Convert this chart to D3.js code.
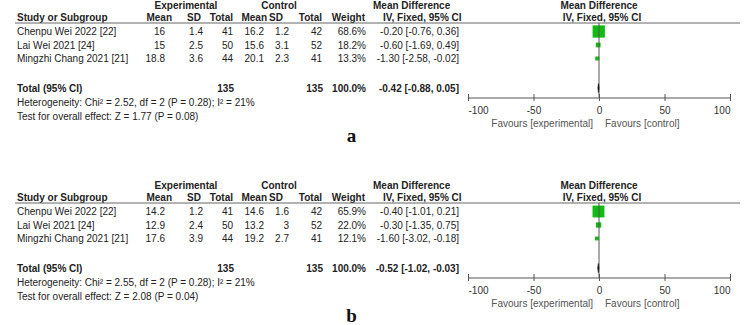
<!DOCTYPE html>
<html>
<head>
<meta charset="utf-8">
<script src="https://cdn.jsdelivr.net/npm/d3@7"></script>
<style>
  html, body { margin: 0; padding: 0; background: #fff; }
  svg { display: block; font-family: "Liberation Sans", Arial, sans-serif; font-size: 10px; }
  .txt { fill: #222; }
  .bold { font-weight: bold; }
  .grey { fill: #555; }
  .panel-label { font-family: "Liberation Serif", "Times New Roman", serif; font-weight: bold; font-size: 19px; fill: #111; }
</style>
</head>
<body>
<svg id="chart" width="753" height="325"></svg>
<script>
const studies = ['Chenpu Wei 2022 [22]', 'Lai Wei 2021 [24]', 'Mingzhi Chang 2021 [21]'];
const axisTicks = [-100, -50, 0, 50, 100];

// panel a
const expMeanA = [16, 15, 18.8];
const expSdA = [1.4, 2.5, 3.6];
const expTotalA = [41, 50, 44];
const ctlMeanA = [16.2, 15.6, 20.1];
const ctlSdA = [1.2, 3.1, 2.3];
const ctlTotalA = [42, 52, 41];
const weightA = [68.6, 18.2, 13.3];
const mdA = [-0.2, -0.6, -1.3];
const loA = [-0.76, -1.69, -2.58];
const hiA = [0.36, 0.49, -0.02];
const pooledA = [-0.42, -0.88, 0.05];
const hetA = 'Heterogeneity: Chi² = 2.52, df = 2 (P = 0.28); I² = 21%';
const testA = 'Test for overall effect: Z = 1.77 (P = 0.08)';

// panel b
const expMeanB = [14.2, 12.9, 17.6];
const expSdB = [1.2, 2.4, 3.9];
const expTotalB = [41, 50, 44];
const ctlMeanB = [14.6, 13.2, 19.2];
const ctlSdB = [1.6, 3, 2.7];
const ctlTotalB = [42, 52, 41];
const weightB = [65.9, 22.0, 12.1];
const mdB = [-0.4, -0.3, -1.6];
const loB = [-1.01, -1.35, -3.02];
const hiB = [0.21, 0.75, -0.18];
const pooledB = [-0.52, -1.02, -0.03];
const hetB = 'Heterogeneity: Chi² = 2.55, df = 2 (P = 0.28); I² = 21%';
const testB = 'Test for overall effect: Z = 2.08 (P = 0.04)';

const svg = d3.select('#chart');
// RevMan prints a plain hyphen, not the unicode minus
const locale = d3.formatLocale({ decimal: '.', thousands: ',', grouping: [3], currency: ['', ''], minus: '-' });
const f2 = locale.format('.2f');
const fw = (v) => locale.format('.1f')(v) + '%';
const ci = (m, l, h) => `${f2(m)} [${f2(l)}, ${f2(h)}]`;

// value column right edges (x) and header right edges (hx)
const cols = [
  { key: 'em', x: 165, hx: 172, head: 'Mean' },
  { key: 'es', x: 203, hx: 201, head: 'SD' },
  { key: 'et', x: 233, hx: 233, head: 'Total' },
  { key: 'cm', x: 264, hx: 267, head: 'Mean' },
  { key: 'cs', x: 289, hx: 283, head: 'SD' },
  { key: 'ct', x: 322, hx: 322, head: 'Total' },
  { key: 'w', x: 366, hx: 365, head: 'Weight' }
];

const x = d3.scaleLinear().domain([-100, 100]).range([468, 730]);
const boxSize = d3.scaleLinear().domain([0, 100]).range([2, 17]);

function drawPanel(top, p) {
  const g = svg.append('g').attr('transform', `translate(0,${top})`);
  const rows = studies.map((s, i) => ({
    name: s,
    em: p.em[i], es: p.es[i], et: p.et[i],
    cm: p.cm[i], cs: p.cs[i], ct: p.ct[i],
    w: p.w[i], md: p.md[i], lo: p.lo[i], hi: p.hi[i]
  }));
  const y = d3.scalePoint().domain(studies).range([31.5, 58.5]);
  const totalY = 88;
  const axisY = 97.5;

  // header row 1
  g.append('text').attr('class', 'txt bold').attr('x', 186).attr('y', 8.5).attr('text-anchor', 'middle').text('Experimental');
  g.append('text').attr('class', 'txt bold').attr('x', 279).attr('y', 8.5).attr('text-anchor', 'middle').text('Control');
  g.append('text').attr('class', 'txt bold').attr('x', 373).attr('y', 8.5).text('Mean Difference');
  g.append('text').attr('class', 'txt bold').attr('x', 599).attr('y', 8.5).attr('text-anchor', 'middle').text('Mean Difference');

  // header row 2
  g.append('text').attr('class', 'txt bold').attr('x', 17).attr('y', 21).text('Study or Subgroup');
  cols.forEach((c) => {
    g.append('text').attr('class', 'txt bold').attr('x', c.hx).attr('y', 21).attr('text-anchor', 'end').text(c.head);
  });
  g.append('text').attr('class', 'txt bold').attr('x', 383).attr('y', 21).text('IV, Fixed, 95% CI');
  g.append('text').attr('class', 'txt bold').attr('x', 602).attr('y', 21).attr('text-anchor', 'middle').text('IV, Fixed, 95% CI');

  g.append('line').attr('x1', 15).attr('x2', 740).attr('y1', 23).attr('y2', 23).attr('stroke', '#666').attr('stroke-width', 1);

  // study rows
  const row = g.selectAll('g.row').data(rows).join('g').attr('class', 'row')
    .attr('transform', (d) => `translate(0,${y(d.name)})`);
  row.append('text').attr('class', 'txt').attr('x', 17).attr('dy', '0.35em').text((d) => d.name);
  cols.forEach((c) => {
    row.append('text').attr('class', 'txt').attr('x', c.x).attr('dy', '0.35em').attr('text-anchor', 'end')
      .text((d) => (c.key === 'w' ? fw(d.w) : String(d[c.key])));
  });
  row.append('text').attr('class', 'txt').attr('x', 459).attr('dy', '0.35em').attr('text-anchor', 'end')
    .text((d) => ci(d.md, d.lo, d.hi));

  // total row
  g.append('text').attr('class', 'txt bold').attr('x', 17).attr('y', totalY).attr('dy', '0.35em').text('Total (95% CI)');
  g.append('text').attr('class', 'txt bold').attr('x', 234).attr('y', totalY).attr('dy', '0.35em').attr('text-anchor', 'end').text(d3.sum(p.et));
  g.append('text').attr('class', 'txt bold').attr('x', 323).attr('y', totalY).attr('dy', '0.35em').attr('text-anchor', 'end').text(d3.sum(p.ct));
  g.append('text').attr('class', 'txt bold').attr('x', 366).attr('y', totalY).attr('dy', '0.35em').attr('text-anchor', 'end').text(fw(100));
  g.append('text').attr('class', 'txt bold').attr('x', 459).attr('y', totalY).attr('dy', '0.35em').attr('text-anchor', 'end').text(ci(p.pooled[0], p.pooled[1], p.pooled[2]));
  g.append('text').attr('class', 'txt').attr('x', 17).attr('y', 102).attr('dy', '0.35em').text(p.het);
  g.append('text').attr('class', 'txt').attr('x', 17).attr('y', 116).attr('dy', '0.35em').text(p.test);

  // zero line
  g.append('line').attr('x1', x(0)).attr('x2', x(0)).attr('y1', 23).attr('y2', axisY).attr('stroke', '#555').attr('stroke-width', 1);

  // confidence intervals and boxes
  row.append('line').attr('x1', (d) => x(d.lo)).attr('x2', (d) => x(d.hi)).attr('y1', 0).attr('y2', 0).attr('stroke', '#333');
  row.append('rect')
    .attr('x', (d) => x(d.md) - boxSize(d.w) / 2)
    .attr('y', (d) => -boxSize(d.w) / 2)
    .attr('width', (d) => boxSize(d.w))
    .attr('height', (d) => boxSize(d.w))
    .attr('fill', '#11bb11');

  // pooled diamond
  const [pm, pl, ph] = p.pooled;
  g.append('path')
    .attr('d', `M${x(pl)},${totalY} L${x(pm)},${totalY - 4.5} L${x(ph)},${totalY} L${x(pm)},${totalY + 4.5} Z`)
    .attr('fill', '#111').attr('stroke', '#111').attr('stroke-width', 0.6);

  // axis
  const ax = g.append('g').attr('transform', `translate(0,${axisY})`)
    .call(d3.axisBottom(x).tickValues(axisTicks).tickSizeOuter(0).tickSizeInner(3.5).tickFormat(locale.format('d')));
  ax.select('.domain').attr('stroke', '#555');
  ax.selectAll('.tick line').attr('y1', -3.5).attr('y2', 3.5).attr('stroke', '#555');
  ax.selectAll('.tick text')
    .attr('y', 9).attr('fill', '#333')
    .style('font-family', '"Liberation Sans", Arial, sans-serif').style('font-size', '10px')
    .attr('text-anchor', (d) => (d === -100 ? 'start' : d === 100 ? 'end' : 'middle'));

  g.append('text').attr('class', 'grey').attr('x', 593).attr('y', 126.5).attr('text-anchor', 'end').text('Favours [experimental]');
  g.append('text').attr('class', 'grey').attr('x', 605).attr('y', 126.5).text('Favours [control]');

  g.append('text').attr('class', 'panel-label').attr('x', 351.5).attr('y', 141.5).attr('text-anchor', 'middle').text(p.label);
}

drawPanel(0, {
  em: expMeanA, es: expSdA, et: expTotalA, cm: ctlMeanA, cs: ctlSdA, ct: ctlTotalA,
  w: weightA, md: mdA, lo: loA, hi: hiA, pooled: pooledA, het: hetA, test: testA, label: 'a'
});
drawPanel(180, {
  em: expMeanB, es: expSdB, et: expTotalB, cm: ctlMeanB, cs: ctlSdB, ct: ctlTotalB,
  w: weightB, md: mdB, lo: loB, hi: hiB, pooled: pooledB, het: hetB, test: testB, label: 'b'
});
</script>
</body>
</html>
